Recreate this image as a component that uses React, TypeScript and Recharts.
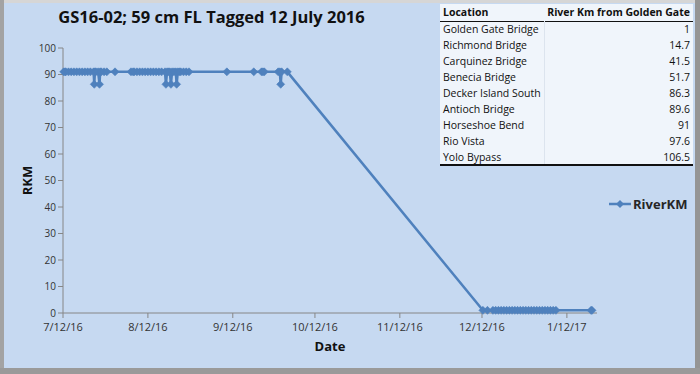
import React from 'react';
import { LineChart, Line, XAxis, YAxis, Legend } from 'recharts';

// detections of GS16-02, [date time, river km]
const julyDetections: [string, number][] = [
  ['2016-07-12 06:00', 91], ['2016-07-12 18:00', 91], ['2016-07-13', 91], ['2016-07-14', 91],
  ['2016-07-15', 91], ['2016-07-16', 91], ['2016-07-17', 91], ['2016-07-18', 91],
  ['2016-07-19', 91], ['2016-07-20', 91], ['2016-07-21', 91], ['2016-07-22', 91],
  ['2016-07-23 04:00', 91], ['2016-07-23 10:00', 86.3], ['2016-07-23 16:00', 91], ['2016-07-24', 91],
  ['2016-07-24 20:00', 91], ['2016-07-25 08:00', 86.3], ['2016-07-25 14:00', 91], ['2016-07-26', 91],
  ['2016-07-27', 91], ['2016-07-28', 91], ['2016-07-31', 91],
];

const augustDetections: [string, number][] = [
  ['2016-08-05 20:00', 91], ['2016-08-06 14:00', 91], ['2016-08-07', 91], ['2016-08-08', 91],
  ['2016-08-09', 91], ['2016-08-10', 91], ['2016-08-11', 91], ['2016-08-12', 91],
  ['2016-08-13', 91], ['2016-08-14', 91], ['2016-08-15', 91], ['2016-08-16', 91],
  ['2016-08-17', 91], ['2016-08-18 06:00', 91], ['2016-08-18 14:00', 86.3], ['2016-08-19 00:00', 91],
  ['2016-08-19 12:00', 91], ['2016-08-20', 91], ['2016-08-20 10:00', 86.3], ['2016-08-20 20:00', 91],
  ['2016-08-21 12:00', 91], ['2016-08-22 04:00', 91], ['2016-08-22 12:00', 86.3], ['2016-08-22 22:00', 91],
  ['2016-08-23 12:00', 91], ['2016-08-24', 91], ['2016-08-25', 91], ['2016-08-26', 91],
  ['2016-08-27', 91],
];

const septemberDetections: [string, number][] = [
  ['2016-09-09 20:00', 91], ['2016-09-19 16:00', 91], ['2016-09-22 12:00', 91], ['2016-09-23 00:00', 91],
  ['2016-09-23 12:00', 91], ['2016-09-28 14:00', 91], ['2016-09-29 04:00', 91], ['2016-09-29 12:00', 86.3],
  ['2016-09-29 20:00', 91], ['2016-10-01 22:00', 91],
];

const decemberDetections: [string, number][] = [
  ['2016-12-12 08:00', 1], ['2016-12-14', 1], ['2016-12-16', 1], ['2016-12-17', 1],
  ['2016-12-18', 1], ['2016-12-19', 1], ['2016-12-20', 1], ['2016-12-21', 1],
  ['2016-12-22', 1], ['2016-12-23', 1], ['2016-12-24', 1], ['2016-12-25', 1],
  ['2016-12-26', 1], ['2016-12-27', 1], ['2016-12-28', 1], ['2016-12-29', 1],
  ['2016-12-30', 1], ['2016-12-31', 1], ['2017-01-01', 1], ['2017-01-02', 1],
  ['2017-01-03', 1], ['2017-01-04', 1], ['2017-01-05', 1], ['2017-01-06', 1],
  ['2017-01-07', 1], ['2017-01-08', 1], ['2017-01-20 20:00', 1], ['2017-01-21 04:00', 1],
];

const xTickLabels = ['7/12/16', '8/12/16', '9/12/16', '10/12/16', '11/12/16', '12/12/16', '1/12/17'];
const xDomainLabels = ['7/12/16', '1/23/17'];
const yTicks = [0, 10, 20, 30, 40, 50, 60, 70, 80, 90, 100];

const tableLocations = [
  'Golden Gate Bridge', 'Richmond Bridge', 'Carquinez Bridge', 'Benecia Bridge',
  'Decker Island South', 'Antioch Bridge', 'Horseshoe Bend', 'Rio Vista', 'Yolo Bypass',
];
const tableRkm = ['1', '14.7', '41.5', '51.7', '86.3', '89.6', '91', '97.6', '106.5'];

const BLUE = '#4f81bd';
const AXIS = '#868686';
const FONT = '"Open Sans", "Noto Sans", sans-serif';

const toTime = (s: string) => {
  const [d, t = '00:00'] = s.split(' ');
  const [y, m, dd] = d.split('-').map(Number);
  const [h, mi] = t.split(':').map(Number);
  return Date.UTC(y, m - 1, dd, h, mi);
};
const labelToTime = (s: string) => {
  const [m, d, y] = s.split('/').map(Number);
  return Date.UTC(2000 + y, m - 1, d);
};

const data = [...julyDetections, ...augustDetections, ...septemberDetections, ...decemberDetections].map(
  ([when, rkm]) => ({ t: toTime(when), RiverKM: rkm })
);
const xTicks = xTickLabels.map(labelToTime);
const fmtTick = (v: number) => xTickLabels[xTicks.indexOf(v)] ?? '';

const Diamond = (props: any) => {
  const { cx, cy, index } = props;
  if (cx == null || cy == null) return null;
  const r = 4;
  return (
    <polygon
      key={`dot-${index}`}
      points={`${cx},${cy - r} ${cx + r},${cy} ${cx},${cy + r} ${cx - r},${cy}`}
      fill={BLUE}
      stroke={BLUE}
      strokeWidth={0.6}
    />
  );
};

const LegendContent = () => (
  <div style={{ display: 'flex', alignItems: 'center', fontFamily: FONT, fontWeight: 700, fontSize: 13, color: '#262626' }}>
    <svg width={22} height={10}>
      <line x1={0} y1={5} x2={22} y2={5} stroke={BLUE} strokeWidth={2.5} />
      <polygon points="11,1 15,5 11,9 7,5" fill={BLUE} />
    </svg>
    <span style={{ marginLeft: 2 }}>RiverKM</span>
  </div>
);

const App = () => {
  return (
    <div style={{ position: 'absolute', left: 0, top: 0, width: 700, height: 374, background: '#c6d9f1', overflow: 'hidden' }}>
      <div
        style={{
          position: 'absolute', left: 0, top: 5, width: 423, textAlign: 'center',
          fontFamily: FONT, fontWeight: 700, fontSize: 16.5, color: '#111',
        }}
      >
        GS16-02; 59 cm FL Tagged 12 July 2016
      </div>

      <LineChart width={700} height={374} data={data} margin={{ top: 48, right: 103, bottom: 0, left: 0 }}>
        <XAxis
          dataKey="t"
          type="number"
          scale="time"
          domain={xDomainLabels.map(labelToTime)}
          ticks={xTicks}
          tickFormatter={fmtTick}
          height={61}
          stroke={AXIS}
          tickSize={5}
          tickMargin={5}
          tick={{ fill: '#333', fontSize: 11, fontFamily: FONT }}
          label={{ value: 'Date', position: 'insideTop', offset: 29, fill: '#111', fontSize: 13, fontWeight: 700, fontFamily: FONT }}
        />
        <YAxis
          type="number"
          domain={[0, 100]}
          ticks={yTicks}
          width={63}
          stroke={AXIS}
          tickSize={5}
          interval={0}
          tick={{ fill: '#333', fontSize: 10, fontFamily: FONT }}
          label={{ value: 'RKM', angle: -90, position: 'center', dx: -4, fill: '#111', fontSize: 13, fontWeight: 700, fontFamily: FONT }}
        />
        <Legend
          layout="vertical"
          align="center"
          verticalAlign="middle"
          content={<LegendContent />}
          wrapperStyle={{ left: 609, top: 195, width: 90, height: 18 }}
        />
        <Line
          type="linear"
          dataKey="RiverKM"
          stroke={BLUE}
          strokeWidth={2.5}
          dot={Diamond}
          activeDot={false}
          isAnimationActive={false}
        />
      </LineChart>

      <table
        style={{
          position: 'absolute', left: 440, top: 4, width: 253, borderCollapse: 'collapse',
          background: '#f0f5fb', fontFamily: FONT, fontSize: 10.5, color: '#111',
          borderBottom: '2px solid #111',
        }}
      >
        <thead>
          <tr style={{ height: 17, borderBottom: '1px solid #111' }}>
            <th style={{ textAlign: 'left', padding: '0 3px', fontWeight: 700 }}>Location</th>
            <th style={{ textAlign: 'left', padding: '0 3px', fontWeight: 700, whiteSpace: 'nowrap' }}>River Km from Golden Gate</th>
          </tr>
        </thead>
        <tbody>
          {tableLocations.map((loc, i) => (
            <tr key={loc} style={{ height: 16 }}>
              <td style={{ padding: '0 3px', whiteSpace: 'nowrap' }}>{loc}</td>
              <td style={{ padding: '0 3px', textAlign: 'right', borderLeft: '1px solid #dce4ee' }}>{tableRkm[i]}</td>
            </tr>
          ))}
        </tbody>
      </table>

      <div style={{ position: 'absolute', left: 0, top: 0, width: 700, height: 3, background: '#d6d6d6' }} />
      <div style={{ position: 'absolute', left: 0, top: 0, width: 4, height: 374, background: '#a3a3a3' }} />
      <div style={{ position: 'absolute', right: 0, top: 0, width: 5, height: 374, background: '#959595' }} />
      <div style={{ position: 'absolute', left: 0, bottom: 0, width: 700, height: 6, background: '#9a9a9a' }} />
    </div>
  );
};

export default App;
